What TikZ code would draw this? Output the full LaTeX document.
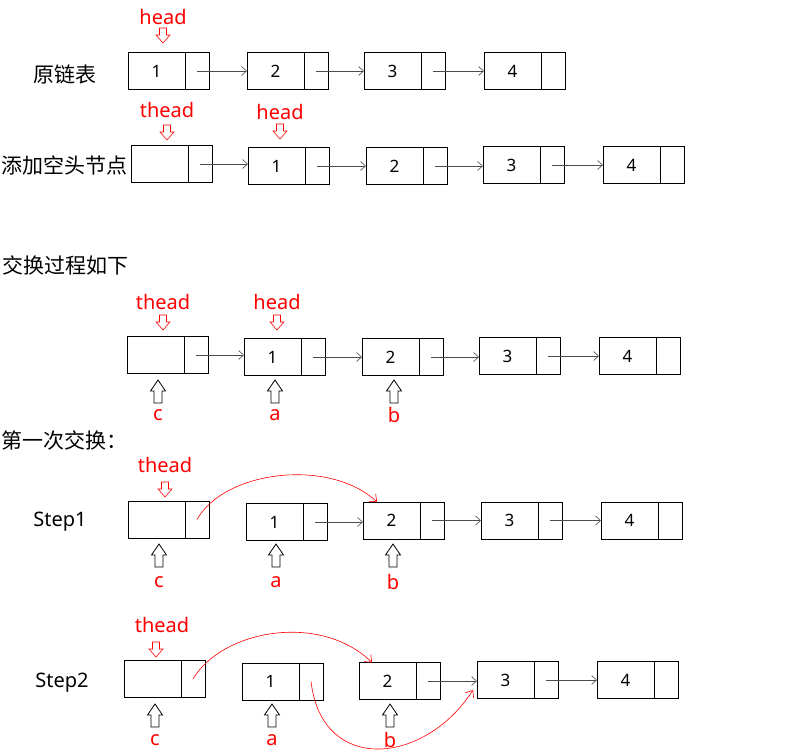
\documentclass[tikz,border=0pt]{standalone}
\usepackage{fontspec}
\setmainfont{Noto Sans}
\newfontfamily\cjk{Noto Sans CJK SC}
\usetikzlibrary{positioning,arrows.meta,calc}

\tikzset{
  dat/.style={draw, line width=0.8pt, minimum width=57pt, minimum height=37pt, inner sep=0pt, outer sep=0pt, anchor=west, font=\fontsize{17}{17}\selectfont},
  ptr/.style={draw, line width=0.8pt, minimum width=24pt, minimum height=37pt, inner sep=0pt, outer sep=0pt},
  nxt/.style={-{Straight Barb[length=5pt,width=9pt]}, line width=0.6pt, black!70},
  swp/.style={-{Straight Barb[length=6pt,width=10pt]}, line width=0.6pt, red},
  tag/.style={text=red, font=\fontsize{20}{20}\selectfont},
  ttl/.style={font=\cjk\fontsize{21}{21}\selectfont},
  ptrdown/.pic={\draw[red, line width=0.6pt] (-3.5,0) -- (3.5,0) -- (3.5,7) -- (7,7) -- (0,15) -- (-7,7) -- (-3.5,7) -- cycle;},
  holdup/.pic={\draw[line width=0.8pt] (0,0) -- (7.5,11) -- (4,11) -- (4,23) -- (-4,23) -- (-4,11) -- (-7.5,11) -- cycle;},
}
% one list node: data part #1, pointer part p#1
\newcommand{\lnode}[3]{\node[dat] (#1) at (#2) {#3}; \node[ptr, right=0pt of #1] (p#1) {};}

\begin{document}
\begin{tikzpicture}[x=1pt,y=-1pt]
\useasboundingbox (0,0) rectangle (788,755);

% original list
\node[ttl] (r1) at (65,74) {原链表};
\node[tag] (oh) at (163,17) {head};
\pic at (163,28) {ptrdown};
\lnode{o1}{128,71}{1} \lnode{o2}{247,71}{2} \lnode{o3}{364,71}{3} \lnode{o4}{484,71}{4}
\foreach \i/\j in {1/2,2/3,3/4}
  \draw[nxt] (po\i.center) -- (po\i.center -| o\j.west);

% with dummy head
\node[ttl, anchor=west, inner sep=0pt] (r2) at (1,165) {添加空头节点};
\node[tag] (dt) at (167,110) {thead};
\pic at (167,125) {ptrdown};
\node[tag] (dh) at (280,112) {head};
\pic at (280,124) {ptrdown};
\lnode{d0}{131,164}{} \lnode{d1}{248,166}{1} \lnode{d2}{366,166}{2} \lnode{d3}{483,165}{3} \lnode{d4}{603,165}{4}
\foreach \i/\j in {0/1,1/2,2/3,3/4}
  \draw[nxt] (pd\i.center) -- (pd\i.center -| d\j.west);

% swap process
\node[ttl, anchor=west, inner sep=0pt] (r3) at (2,265) {交换过程如下};
\node[tag] (xt) at (163,302) {thead};
\pic at (163,315) {ptrdown};
\node[tag] (xh) at (277,302) {head};
\pic at (277,315) {ptrdown};
\lnode{x0}{127,355}{} \lnode{x1}{244,357}{1} \lnode{x2}{362,357}{2} \lnode{x3}{479,356}{3} \lnode{x4}{599,356}{4}
\foreach \i/\j in {0/1,1/2,2/3,3/4}
  \draw[nxt] (px\i.center) -- (px\i.center -| x\j.west);
\foreach \x/\v in {158/c,275/a,394/b}{
  \pic at (\x,380) {holdup};
  \node[tag] (x\v) at (\x,415) {\v};
}

% first swap, step 1
\node[ttl, anchor=west, inner sep=0pt] (r4) at (1,440) {第一次交换：};
\node (st1) at (60,522) [font=\fontsize{20}{20}\selectfont] {Step1};
\node[tag] (st) at (165,465) {thead};
\pic at (165,482) {ptrdown};
\lnode{s0}{128,519.5}{} \lnode{s1}{246,522}{1} \lnode{s2}{363,520.5}{2} \lnode{s3}{481,520.5}{3} \lnode{s4}{601,520.5}{4}
\foreach \i/\j in {1/2,2/3,3/4}
  \draw[nxt] (ps\i.center) -- (ps\i.center -| s\j.west);
\draw[swp] (ps0.center) .. controls (225,470) and (330,458) .. ($(s2.north west)+(14,0)$);
\foreach \x/\v in {159/c,276/a,393/b}{
  \pic at (\x,544) {holdup};
  \node[tag] (s\v) at (\x,582) {\v};
}

% step 2
\node (st2) at (62,683) [font=\fontsize{20}{20}\selectfont] {Step2};
\node[tag] (tt) at (162,625) {thead};
\pic at (156,642) {ptrdown};
\lnode{t0}{124,679}{} \lnode{t1}{242,681.5}{1} \lnode{t2}{359,681}{2} \lnode{t3}{477,680}{3} \lnode{t4}{597,680}{4}
\foreach \i/\j in {2/3,3/4}
  \draw[nxt] (pt\i.center) -- (pt\i.center -| t\j.west);
\draw[swp] (pt0.center) .. controls (222,630) and (320,612) .. ($(t2.north west)+(13,0)$);
\draw[swp] (pt1.center) .. controls (322,775) and (425,765) .. ($(t3.west)+(-4,10)$);
\foreach \x/\v in {155/c,272/a,390/b}{
  \pic at (\x,704) {holdup};
  \node[tag] (t\v) at (\x,740) {\v};
}
\end{tikzpicture}
\end{document}
